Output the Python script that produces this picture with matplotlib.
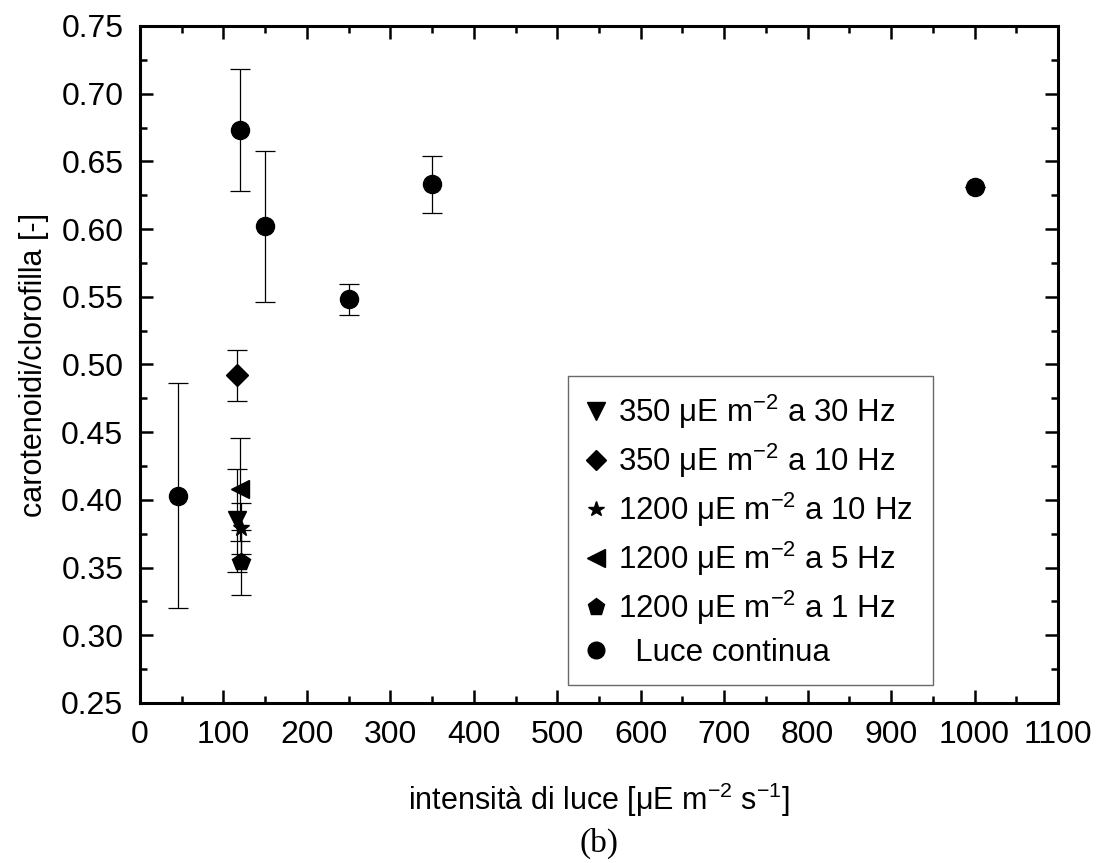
import numpy as np
import matplotlib
matplotlib.use("Agg")
import matplotlib.pyplot as plt
from matplotlib.lines import Line2D

plt.rcParams['font.family'] = ['Liberation Sans', 'DejaVu Sans']
plt.rcParams['mathtext.fontset'] = 'custom'
plt.rcParams['mathtext.rm'] = 'Liberation Sans'

# Luce continua
cont_x = [45, 120, 150, 250, 350, 1000]
cont_y = [0.403, 0.673, 0.602, 0.548, 0.633, 0.631]
cont_err = [0.083, 0.045, 0.056, 0.0115, 0.021, 0.0]

# pulsed light series
puls_labels = [r"350 μE m$^{-2}$ a 30 Hz", r"350 μE m$^{-2}$ a 10 Hz",
               r"1200 μE m$^{-2}$ a 10 Hz", r"1200 μE m$^{-2}$ a 5 Hz",
               r"1200 μE m$^{-2}$ a 1 Hz"]
puls_markers = ['v', 'D', '*', '<', 'p']
puls_sizes = [13, 11, 12, 13, 13]
puls_x = [116, 116, 121, 120, 121]
puls_y = [0.385, 0.492, 0.379, 0.408, 0.354]
puls_err = [0.038, 0.019, 0.019, 0.038, 0.024]

fig = plt.figure(figsize=(10.99, 8.63), dpi=100)
ax = fig.add_axes([0.1274, 0.1854, 0.8353, 0.7845])

ekw = dict(ecolor='black', elinewidth=0.9, capsize=7, capthick=0.9, linestyle='none')
handles = []
for lab, m, ms, x, y, e in zip(puls_labels, puls_markers, puls_sizes, puls_x, puls_y, puls_err):
    ax.errorbar([x], [y], yerr=[e], marker=m, markersize=ms, color='black', **ekw)
    handles.append(Line2D([], [], marker=m, markersize=ms * 0.95, color='black',
                          linestyle='none', label=lab))
ax.errorbar(cont_x, cont_y, yerr=cont_err, marker='o', markersize=13, color='black', **ekw)
handles.append(Line2D([], [], marker='o', markersize=12, color='black',
                      linestyle='none', label="  Luce continua"))

ax.set_xlim(0, 1100)
ax.set_ylim(0.25, 0.75)
ax.set_xticks(np.arange(0, 1101, 100))
ax.set_xticks(np.arange(50, 1100, 100), minor=True)
ax.set_yticks(np.arange(0.25, 0.751, 0.05))
ax.set_yticks(np.arange(0.275, 0.75, 0.05), minor=True)
ax.yaxis.set_major_formatter(matplotlib.ticker.FormatStrFormatter('%.2f'))
ax.tick_params(which='both', direction='in', top=True, right=True, labelsize=23, width=1.8)
ax.tick_params(which='major', length=9.5, pad=12)
ax.tick_params(which='minor', length=5)
for s in ax.spines.values():
    s.set_linewidth(2.2)

ax.set_xlabel(r"intensità di luce [μE m$^{-2}$ s$^{-1}$]", fontsize=22, labelpad=22)
ax.set_ylabel("carotenoidi/clorofilla [-]", fontsize=22, labelpad=9)

leg = ax.legend(handles=handles, loc='lower left',
                bbox_to_anchor=(0.466, 0.027, 0.398, 0.41), mode='expand',
                fontsize=22.5, frameon=True, fancybox=False, edgecolor='#444444',
                handlelength=0.7, handletextpad=0.35, labelspacing=0.34, borderpad=0.55,
                borderaxespad=0)
leg.get_frame().set_linewidth(1.0)

fig.text(0.545, 0.023, "(b)", fontsize=24, family='Liberation Serif', ha='center', va='center')

fig.savefig("out.png", dpi=100)
